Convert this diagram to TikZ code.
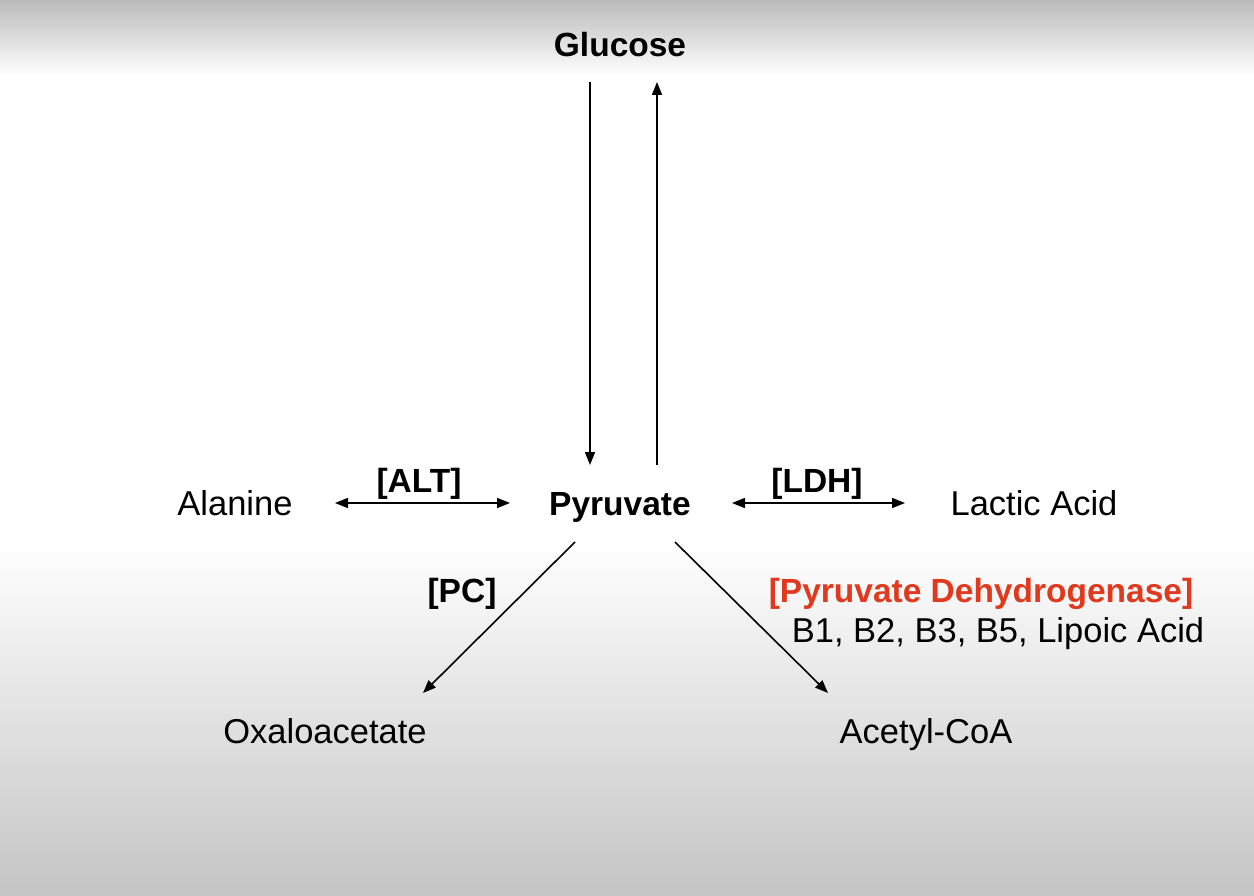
\documentclass[tikz,border=0pt]{standalone}
\usepackage{fontspec}
\setmainfont{Liberation Sans}
\usetikzlibrary{arrows.meta,calc}
\definecolor{pdhred}{HTML}{E0391E}
\begin{document}
\begin{tikzpicture}[x=1pt,y=-1pt,
  lbl/.style={inner sep=0pt,anchor=base,font=\fontsize{34.5}{40}\selectfont},
  blbl/.style={inner sep=0pt,anchor=base,font=\fontsize{33.5}{40}\selectfont\bfseries},
  arr/.style={line width=1.6pt,-{Triangle[length=13pt,width=10pt]}},
  darr/.style={line width=1.6pt,{Triangle[length=13pt,width=10pt]}-{Triangle[length=13pt,width=10pt]}}]
\useasboundingbox (0,0) rectangle (1254,896);
\fill[white] (0,0) rectangle (1254,896);
\shade[top color=black!27, bottom color=white] (0,0) rectangle (1254,75);
\shade[top color=white, bottom color=black!23] (0,540) rectangle (1254,896);
% nodes
\node[blbl] (glc) at (620,57) {Glucose};
\node[blbl] (pyr) at (620,515) {Pyruvate};
\node[lbl] (ala) at (235,515) {Alanine};
\node[lbl] (lac) at (1034,515) {Lactic Acid};
\node[lbl] (oxa) at (325,743) {Oxaloacetate};
\node[lbl] (acc) at (926,743) {Acetyl-CoA};
\node[blbl] (alt) at (419,492) {[ALT]};
\node[blbl] (ldh) at (817,492) {[LDH]};
\node[blbl] (pc) at (462,602) {[PC]};
\node[blbl,text=pdhred] (pdh) at (981,602) {[Pyruvate Dehydrogenase]};
\node[lbl] (vit) at (998,642) {B1, B2, B3, B5, Lipoic Acid};
% connectors
\draw[arr] ($(glc.base)+(-30,25)$) -- ($(pyr.base)+(-30,-50)$);
\draw[arr] ($(pyr.base)+(37,-50)$) -- ($(glc.base)+(37,25)$);
\draw[darr] ($(ala.base)+(100,-12)$) -- ($(pyr.base)+(-110,-12)$);
\draw[darr] ($(pyr.base)+(112,-12)$) -- ($(lac.base)+(-129,-12)$);
\draw[arr] ($(pyr.base)+(-45,27)$) -- ($(oxa.base)+(98,-50)$);
\draw[arr] ($(pyr.base)+(55,27)$) -- ($(acc.base)+(-98,-50)$);
\end{tikzpicture}
\end{document}
